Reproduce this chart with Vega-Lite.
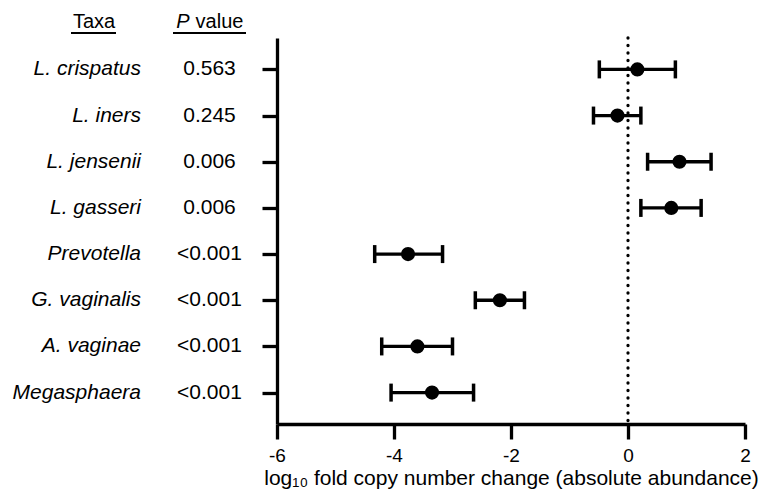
{
  "$schema": "https://vega.github.io/schema/vega-lite/v6.json",
  "padding": {"left": 12, "top": 11, "right": 10, "bottom": 2},
  "background": "white",
  "config": {
    "font": "Liberation Sans",
    "view": {"stroke": null},
    "axis": {"grid": false, "domainColor": "black", "tickColor": "black", "labelColor": "black", "titleColor": "black"}
  },
  "data": {
    "values": [
      {"taxon": "L. crispatus", "p": "0.563", "est": 0.16, "lo": -0.49, "hi": 0.81},
      {"taxon": "L. iners", "p": "0.245", "est": -0.18, "lo": -0.59, "hi": 0.22},
      {"taxon": "L. jensenii", "p": "0.006", "est": 0.88, "lo": 0.335, "hi": 1.42},
      {"taxon": "L. gasseri", "p": "0.006", "est": 0.74, "lo": 0.22, "hi": 1.25},
      {"taxon": "Prevotella", "p": "<0.001", "est": -3.76, "lo": -4.33, "hi": -3.17},
      {"taxon": "G. vaginalis", "p": "<0.001", "est": -2.19, "lo": -2.61, "hi": -1.77},
      {"taxon": "A. vaginae", "p": "<0.001", "est": -3.6, "lo": -4.21, "hi": -3.0},
      {"taxon": "Megasphaera", "p": "<0.001", "est": -3.35, "lo": -4.05, "hi": -2.64}
    ]
  },
  "bounds": "flush",
  "spacing": 31,
  "resolve": {"scale": {"x": "independent", "y": "independent"}},
  "hconcat": [
    {
      "width": 175,
      "height": 386,
      "resolve": {"scale": {"y": "independent"}},
      "layer": [
        {
          "mark": {"type": "text", "align": "right", "baseline": "middle", "fontStyle": "italic", "fontSize": 21, "color": "black"},
          "encoding": {
            "y": {"field": "taxon", "type": "nominal", "sort": null, "scale": {"type": "point", "padding": 0.68}, "axis": null},
            "x": {
              "datum": 0.4, "type": "quantitative",
              "scale": {"domain": [0, 1], "nice": false, "zero": false},
              "axis": {"orient": "top", "offset": 5, "values": [0.1286, 0.636, 0.8457],
                "labelExpr": "datum.value < 0.2 ? 'Taxa' : (datum.value < 0.7 ? 'P' : 'value')",
                "labelFontStyle": {"condition": {"test": "datum.value > 0.2 && datum.value < 0.7", "value": "italic"}, "value": "normal"},
                "ticks": false, "domain": false, "labelFontSize": 20, "labelPadding": 2, "labelFlush": false, "labelOverlap": false, "title": null, "grid": false}
            },
            "text": {"field": "taxon"}
          }
        },
        {
          "mark": {"type": "text", "align": "center", "baseline": "middle", "fontSize": 21, "color": "black"},
          "encoding": {
            "y": {"field": "taxon", "type": "nominal", "sort": null, "scale": {"type": "point", "padding": 0.68}, "axis": null},
            "x": {"datum": 0.7914, "type": "quantitative"},
            "text": {"field": "p"}
          }
        },
        {
          "mark": {"type": "rule", "strokeWidth": 1.5, "color": "black"},
          "encoding": {
            "y": {"datum": 1.013, "type": "quantitative", "scale": {"domain": [0, 1], "nice": false, "zero": false}, "axis": null},
            "x": {"datum": 0, "type": "quantitative"},
            "x2": {"datum": 0.2571}
          }
        },
        {
          "mark": {"type": "rule", "strokeWidth": 1.5, "color": "black"},
          "encoding": {
            "y": {"datum": 1.013, "type": "quantitative", "scale": {"domain": [0, 1], "nice": false, "zero": false}, "axis": null},
            "x": {"datum": 0.5829, "type": "quantitative"},
            "x2": {"datum": 1}
          }
        }
      ]
    },
    {
      "width": 468,
      "height": 386,
      "layer": [
        {
          "data": {"values": [{"ref": 0}]},
          "mark": {"type": "rule", "strokeDash": [0.1, 7.4], "strokeCap": "round", "strokeWidth": 3.3, "color": "black"},
          "encoding": {
            "x": {"field": "ref", "type": "quantitative", "scale": {"domain": [-6, 2], "nice": false, "zero": false},
              "axis": {"values": [-6, -4, -2, 0, 2], "labelExpr": "'' + datum.value", "tickSize": 15, "tickWidth": 3.3, "domainWidth": 3.3, "labelFontSize": 19, "labelPadding": 7, "labelFlush": false, "title": "log₁₀ fold copy number change (absolute abundance)", "titleFontSize": 21, "titleFontWeight": "normal", "titlePadding": 2, "grid": false}}
          }
        },
        {
          "mark": {"type": "rule", "strokeWidth": 3.3, "color": "black"},
          "encoding": {
            "y": {"field": "taxon", "type": "nominal", "sort": null, "scale": {"type": "point", "padding": 0.68},
              "axis": {"labels": false, "ticks": true, "tickSize": 15, "tickWidth": 3.3, "domainWidth": 3.3, "title": null, "grid": false}},
            "x": {"field": "lo", "type": "quantitative"},
            "x2": {"field": "hi"}
          }
        },
        {
          "mark": {"type": "tick", "orient": "vertical", "size": 18, "thickness": 3.5, "color": "black", "opacity": 1},
          "encoding": {
            "y": {"field": "taxon", "type": "nominal", "sort": null},
            "x": {"field": "lo", "type": "quantitative"}
          }
        },
        {
          "mark": {"type": "tick", "orient": "vertical", "size": 18, "thickness": 3.5, "color": "black", "opacity": 1},
          "encoding": {
            "y": {"field": "taxon", "type": "nominal", "sort": null},
            "x": {"field": "hi", "type": "quantitative"}
          }
        },
        {
          "mark": {"type": "point", "shape": "circle", "filled": true, "size": 200, "color": "black", "opacity": 1},
          "encoding": {
            "y": {"field": "taxon", "type": "nominal", "sort": null},
            "x": {"field": "est", "type": "quantitative"}
          }
        }
      ]
    }
  ]
}
